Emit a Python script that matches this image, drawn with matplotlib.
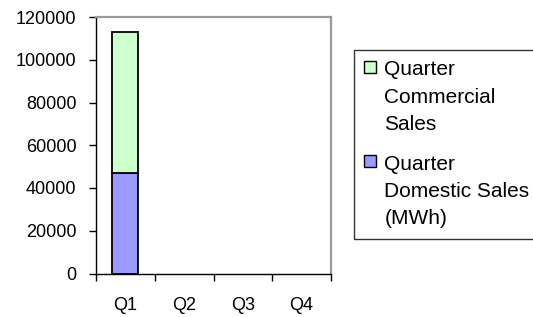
import numpy as np
import matplotlib
matplotlib.use('Agg')
import matplotlib.pyplot as plt
from matplotlib.patches import Rectangle
from matplotlib.legend_handler import HandlerPatch

quarters = ['Q1', 'Q2', 'Q3', 'Q4']
domestic = [46900, 0, 0, 0]
commercial = [66300, 0, 0, 0]
labels = ['Quarter\nCommercial\nSales', 'Quarter\nDomestic Sales\n(MWh)']
yticks = [0, 20000, 40000, 60000, 80000, 100000, 120000]

plt.rcParams['font.family'] = ['Liberation Sans', 'DejaVu Sans']
FS = 13
LEG_FS = 15
LS = 1.55


class TopSquare(HandlerPatch):
    # small square next to the first line of a 3-line label
    def create_artists(self, legend, orig_handle, xdescent, ydescent,
                       width, height, fontsize, trans):
        s = 0.56 * fontsize
        yc = (0.48 + 0.857 * LS) * fontsize
        r = Rectangle((-xdescent, yc - s / 2), s, s,
                      facecolor=orig_handle.get_facecolor(),
                      edgecolor='black', lw=1.0, transform=trans)
        return [r]


fig = plt.figure(figsize=(5.33, 3.17), dpi=100)
ax = fig.add_axes([96 / 533, 1 - 273.5 / 317, (331 - 96) / 533, (273.5 - 17) / 317])

x = np.arange(len(quarters))
b1 = ax.bar(x, domestic, width=0.44, color='#9999FF', edgecolor='black', lw=1.3)
b2 = ax.bar(x, commercial, bottom=domestic, width=0.44, color='#CCFFCC',
            edgecolor='black', lw=1.3)
# hide empty bars
for i in range(1, len(quarters)):
    b1[i].set_visible(False)
    b2[i].set_visible(False)

ax.set_xlim(-0.5, 3.5)
ax.set_ylim(0, 120000)
ax.set_yticks(yticks)
ax.set_yticklabels([str(v) for v in yticks], fontsize=FS)
ax.set_xticks(x)
ax.set_xticklabels(quarters, fontsize=FS)
ax.set_xticks(np.arange(-0.5, 4, 1), minor=True)
ax.tick_params(axis='x', which='major', length=0, pad=17)
ax.tick_params(axis='x', which='minor', length=5, width=1, direction='out')
ax.tick_params(axis='y', length=5, width=1, direction='out', pad=9)

for s in ['left', 'bottom']:
    ax.spines[s].set_color('black')
    ax.spines[s].set_linewidth(1.0)
for s in ['top', 'right']:
    ax.spines[s].set_color('#999999')
    ax.spines[s].set_linewidth(1.6)

h1 = Rectangle((0, 0), 1, 1, facecolor='#CCFFCC')
h2 = Rectangle((0, 0), 1, 1, facecolor='#9999FF')
leg = fig.legend([h1, h2], labels, loc='upper left',
                 bbox_to_anchor=(354 / 533, 1 - 50 / 317),
                 handler_map={Rectangle: TopSquare()},
                 fontsize=LEG_FS, frameon=True, fancybox=False,
                 borderpad=0.5, handlelength=0.56, handletextpad=0.4,
                 labelspacing=1.0, borderaxespad=0)
leg.get_frame().set_edgecolor('black')
leg.get_frame().set_linewidth(1.0)
for t in leg.get_texts():
    t.set_linespacing(LS)

fig.savefig('out.png', dpi=100)
